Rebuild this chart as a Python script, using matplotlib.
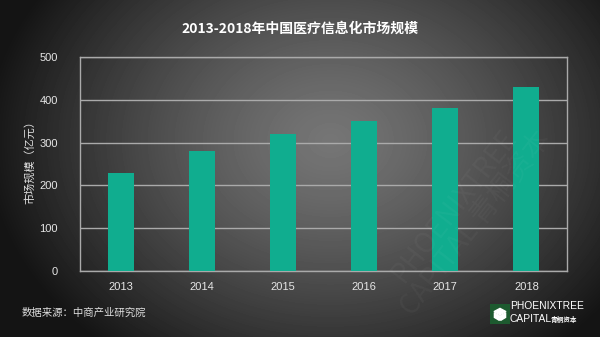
import numpy as np
import matplotlib.pyplot as plt

plt.rcParams['font.family'] = ['Noto Sans CJK SC', 'DejaVu Sans']

years = ['2013', '2014', '2015', '2016', '2017', '2018']
market_size = [230, 280, 320, 350, 380, 430]
title = '2013-2018年中国医疗信息化市场规模'
ylabel = '市场规模（亿元）'
source = '数据来源：中商产业研究院'

fig = plt.figure(figsize=(6, 3.37), dpi=100)

# radial gradient background
bg = fig.add_axes([0, 0, 1, 1], zorder=-10)
yy, xx = np.mgrid[0:337, 0:600]
r = np.sqrt(((xx - 330) / 330.0) ** 2 + ((yy - 140) / 260.0) ** 2)
shade = np.clip(0.46 - 0.36 * r ** 1.3, 0.08, 0.46)
bg.imshow(shade, cmap='gray', vmin=0, vmax=1, aspect='auto',
          extent=[0, 1, 0, 1], origin='upper')
bg.axis('off')

ax = fig.add_axes([80 / 600, 1 - 271 / 337, 487 / 600, 214 / 337])
ax.patch.set_alpha(0)
x = np.arange(len(years))
ax.bar(x, market_size, width=0.32, color='#10ad8f', zorder=3)
ax.set_xlim(-0.5, len(years) - 0.5)
ax.set_ylim(0, 500)
ax.set_yticks(range(0, 501, 100))
ax.set_xticks(x)
ax.set_xticklabels(years)
ax.grid(axis='y', color='#aaaaaa', linewidth=1, zorder=1)
for s in ax.spines.values():
    s.set_color('#aaaaaa')
    s.set_linewidth(1)
ax.tick_params(length=0, colors='#e6e6e6', labelsize=8, pad=8)
ax.tick_params(axis='y', pad=16)
for lab in ax.get_xticklabels() + ax.get_yticklabels():
    lab.set_family(['Liberation Sans', 'DejaVu Sans'])
for lab in ax.get_yticklabels():
    lab.set_horizontalalignment('right')

fig.text(30 / 600, 1 - 160 / 337, ylabel, rotation=90, color='#e0e0e0',
         fontsize=8, ha='center', va='center')
fig.text(300 / 600, 1 - 29 / 337, title, color='white', fontsize=10,
         fontweight='bold', ha='center', va='center')
fig.text(22 / 600, 1 - 313 / 337, source, color='#dddddd', fontsize=7.5,
         ha='left', va='center')

# watermark
fig.text(465 / 600, 1 - 215 / 337, 'PHOENIXTREE\nCAPITAL 青桐资本', rotation=52,
         color='white', alpha=0.035, fontsize=20, ha='center', va='center',
         linespacing=0.9)

# logo
logo = fig.add_axes([490 / 600, 1 - 324 / 337, 20 / 600, 20 / 337])
logo.set_facecolor('#1d5a2f')
logo.set_xticks([])
logo.set_yticks([])
for s in logo.spines.values():
    s.set_visible(False)
logo.fill([0.2, 0.5, 0.8, 0.5], [0.62, 0.78, 0.62, 0.46], color='white')
logo.fill([0.22, 0.47, 0.47, 0.22], [0.56, 0.41, 0.18, 0.33], color='white')
logo.fill([0.53, 0.78, 0.78, 0.53], [0.41, 0.56, 0.33, 0.18], color='white')
logo.set_xlim(0, 1)
logo.set_ylim(0, 1)
fig.text(510 / 600, 1 - 306 / 337, 'PHOENIXTREE', color='white', fontsize=7.4,
         ha='left', va='center', family='Liberation Sans')
fig.text(510 / 600, 1 - 319 / 337, 'CAPITAL', color='white', fontsize=7.4,
         ha='left', va='center', family='Liberation Sans')
fig.text(551 / 600, 1 - 319 / 337, '青桐资本', color='white', fontsize=4.8,
         ha='left', va='center', fontweight='bold')

fig.savefig('out.png', dpi=100)
